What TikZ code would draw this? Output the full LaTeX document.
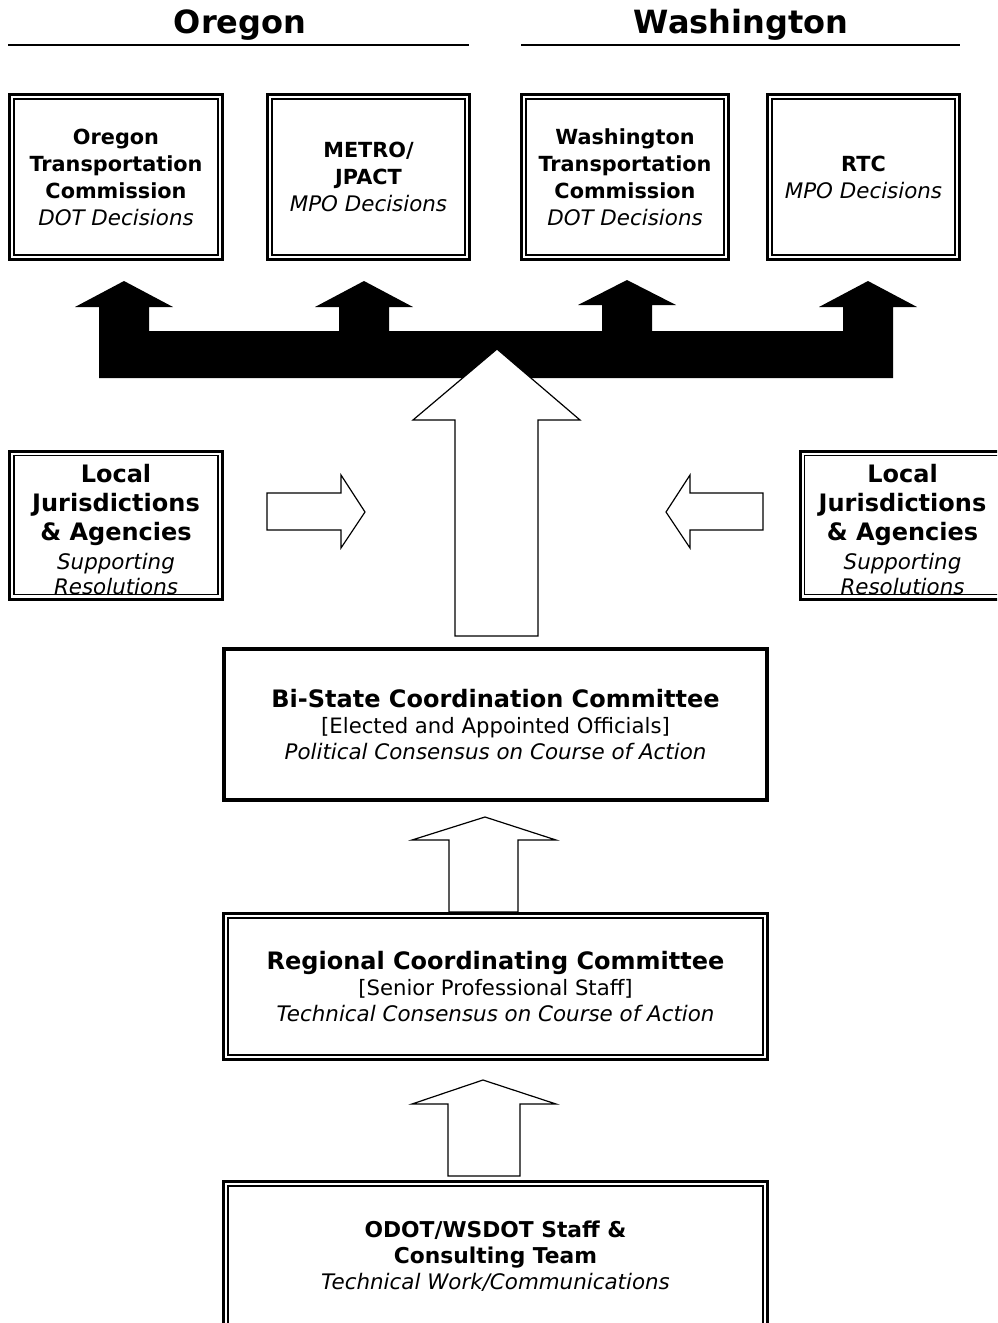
\documentclass[tikz,border=0pt]{standalone}
\usepackage{fontspec}
\setmainfont{DejaVu Sans}
\usetikzlibrary{calc}

\newcommand{\dec}[1]{{\mdseries\itshape\fontsize{10.7}{13}\selectfont #1}}
\newcommand{\plaintxt}[1]{{\mdseries\fontsize{10.6}{13}\selectfont #1}}

\tikzset{
  head/.style={font=\bfseries\fontsize{16}{19}\selectfont, anchor=base},
  body/.style={font=\bfseries\fontsize{10.4}{13.5}\selectfont, align=center, inner sep=0pt, outer sep=0pt},
  dbox/.style={body, draw, line width=1.5pt},
  sbox/.style={body, draw, line width=2pt},
  big/.style={font=\bfseries\fontsize{12}{13}\selectfont},
  loc/.style={font=\bfseries\fontsize{12}{14.5}\selectfont},
}

\begin{document}
\begin{tikzpicture}[x=0.5pt,y=-0.5pt,semithick]
\useasboundingbox (0,0) rectangle (997,1323);
\clip (0,0) rectangle (997,1323);
% state headings
\node[head] (or) at (240,33) {Oregon};
\node[head] (wa) at (741,33) {Washington};
\draw[line width=1pt] (8,45)--(469,45) (521,45)--(960,45);
% decision bodies
\node[dbox,minimum width=106.5pt,minimum height=82.5pt] (otc) at (116,177)
  {Oregon\\Transportation\\Commission\\\dec{DOT Decisions}};
\node[dbox,minimum width=101pt,minimum height=82.5pt] (metro) at (368.5,177)
  {METRO/\\JPACT\\\dec{MPO Decisions}};
\node[dbox,minimum width=103.5pt,minimum height=82.5pt] (wtc) at (625,177)
  {Washington\\Transportation\\Commission\\\dec{DOT Decisions}};
\node[dbox,minimum width=96pt,minimum height=82.5pt] (rtc) at (863.5,177)
  {RTC\\\dec{MPO Decisions}};
% local jurisdictions
\node[dbox,loc,minimum width=106.5pt,minimum height=74pt] (lja) at (116,525)
  {\rule{0pt}{14pt}Local\\Jurisdictions\\\& Agencies\\\dec{Supporting}\\[-2pt]\dec{Resolutions}};
\node[dbox,loc,minimum width=102.5pt,minimum height=74pt] (ljw) at (902.5,525)
  {\rule{0pt}{14pt}Local\\Jurisdictions\\\& Agencies\\\dec{Supporting}\\[-2pt]\dec{Resolutions}};
% committees
\node[sbox,big,minimum width=271.5pt,minimum height=75.5pt] (bsc) at (495.5,724.5)
  {Bi-State Coordination Committee\\\plaintxt{[Elected and Appointed Officials]}\\\dec{Political Consensus on Course of Action}};
\node[dbox,big,minimum width=272pt,minimum height=73pt] (rcc) at (495.5,986.5)
  {Regional Coordinating Committee\\\plaintxt{[Senior Professional Staff]}\\\dec{Technical Consensus on Course of Action}};
\node[dbox,font=\bfseries\fontsize{10.9}{13}\selectfont,minimum width=272pt,minimum height=74.25pt] (staff) at (495.5,1255.75)
  {ODOT/WSDOT Staff \&\\Consulting Team\\\dec{Technical Work/Communications}};
\foreach \b in {otc,metro,wtc,rtc,lja,ljw,rcc,staff}
  \draw[line width=.6pt] ([shift={(4.5,4.5)}]\b.north west) rectangle ([shift={(-4.5,-4.5)}]\b.south east);
% black distribution bar
\fill (99,378)--(99,307)--(75,307)--(124,281)--(173,307)--(149,307)--(149,331)
  --(339,331)--(339,307)--(315,307)--(364,281)--(413,307)--(389,307)--(389,331)
  --(602,331)--(602,305)--(578,305)--(627,280)--(676,305)--(652,305)--(652,331)
  --(843,331)--(843,307)--(819,307)--(868,281)--(917,307)--(893,307)--(893,378)--cycle;
% block arrows
\filldraw[fill=white] (455,636)--(455,420)--(413,420)--(497,349)--(580,420)--(538,420)--(538,636)--cycle;
\draw (267,493)--(341,493)--(341,475)--(365,512)--(341,548)--(341,530)--(267,530)--cycle;
\draw (763,493)--(690,493)--(690,475)--(666,512)--(690,548)--(690,530)--(763,530)--cycle;
\draw (449,912)--(449,840)--(412,840)--(485,817)--(556,840)--(518,840)--(518,912)--cycle;
\draw (448,1176)--(448,1104)--(412,1104)--(483,1080)--(556,1104)--(520,1104)--(520,1176)--cycle;
\end{tikzpicture}
\end{document}
